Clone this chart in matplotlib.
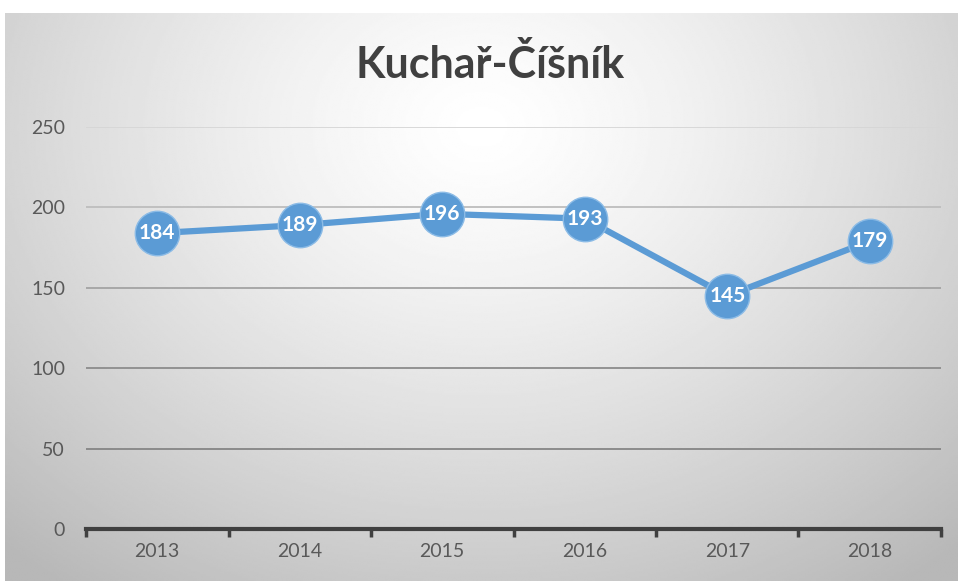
"""
Kuchař-Číšník line chart, Excel-style with radial gradient background.
"""
import numpy as np
import matplotlib
matplotlib.use("Agg")
import matplotlib.pyplot as plt

YEARS  = ["2013", "2014", "2015", "2016", "2017", "2018"]
VALUES = [184, 189, 196, 193, 145, 179]
YTICKS = [0, 50, 100, 150, 200, 250]
TITLE  = "Kuchař-Číšník"

W, H, DPI = 958, 581, 100
BLUE      = "#5B9BD5"
TXT       = "#595959"
# gridlines fade out towards the lighter top of the background
GRID_COLORS = {50: "#858585", 100: "#8c8c8c", 150: "#a3a3a3", 200: "#bdbdbd", 250: "#d6d6d6"}

plt.rcParams["font.family"] = ["Lato", "DejaVu Sans"]

fig = plt.figure(figsize=(W / DPI, H / DPI), dpi=DPI)
fig.patch.set_facecolor("white")

# radial gradient background
bg = fig.add_axes([5 / W, 0, 1 - 5 / W, 1 - 13 / H], zorder=0)
gy, gx = np.mgrid[0:1:300j, 0:1:500j]
r = np.sqrt(((gx - 0.5) / 0.75) ** 2 + ((gy - 0.2) / 1.0) ** 2)
shade = 1.0 - 0.28 * np.clip(r, 0, 1) ** 1.3
bg.imshow(shade, cmap="gray", vmin=0, vmax=1, aspect="auto",
          extent=[0, 1, 1, 0], interpolation="bilinear")
bg.axis("off")

ax = fig.add_axes([86 / W, 1 - 529 / H, (941 - 86) / W, (529 - 127) / H], zorder=1)
ax.patch.set_alpha(0)

for t in YTICKS[1:]:
    ax.axhline(t, color=GRID_COLORS[t], linewidth=1.3, zorder=1)

x = np.arange(len(YEARS))
ax.plot(x, VALUES, color=BLUE, linewidth=4.5, marker="o", markersize=32,
        markerfacecolor=BLUE, markeredgecolor="#8bbbe6", markeredgewidth=1.0,
        solid_capstyle="round", zorder=3)
for xi, v in zip(x, VALUES):
    ax.text(xi, v, str(v), ha="center", va="center", color="white",
            fontsize=15, fontweight="bold", zorder=4)

ax.set_xlim(-0.5, len(YEARS) - 0.5)
ax.set_ylim(0, 250)
ax.set_yticks(YTICKS)
ax.set_yticklabels([str(t) for t in YTICKS])

# category ticks between labels
ax.set_xticks(np.arange(-0.5, len(YEARS) + 0.5, 1.0))
ax.set_xticklabels([])
ax.set_xticks(x, minor=True)
ax.set_xticklabels(YEARS, minor=True)
ax.tick_params(axis="x", which="major", direction="out", length=6, width=2.5,
               color="#404040")
ax.tick_params(axis="x", which="minor", length=0, pad=10, labelsize=14,
               labelcolor=TXT)
ax.tick_params(axis="y", length=0, pad=15, labelsize=14, labelcolor=TXT)

for s in ["top", "right", "left"]:
    ax.spines[s].set_visible(False)
ax.spines["bottom"].set_color("#404040")
ax.spines["bottom"].set_linewidth(3)
ax.spines["bottom"].set_zorder(2)

fig.text(490 / W, 1 - 65 / H, TITLE, ha="center", va="center",
         fontsize=31, fontweight="bold", color="#404040")

fig.savefig("out.png", dpi=DPI)
